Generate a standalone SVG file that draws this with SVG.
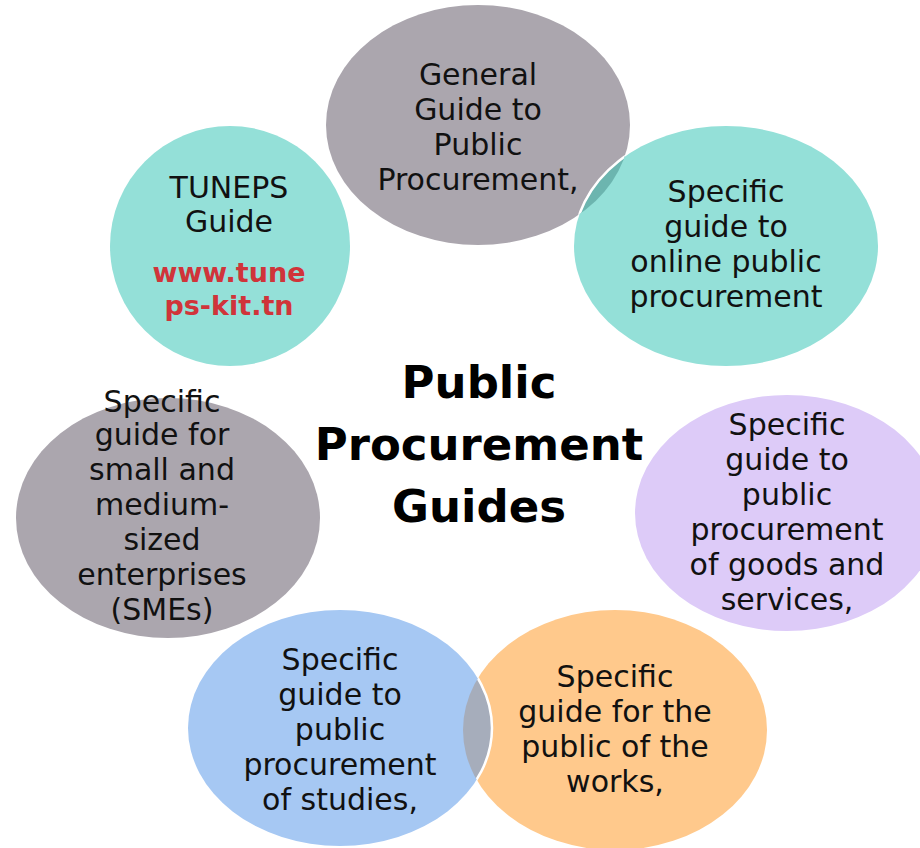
<svg xmlns="http://www.w3.org/2000/svg" width="920" height="848" viewBox="0 0 920 848">
<defs>
<style>
.t{font-family:"DejaVu Sans","Liberation Sans",sans-serif;font-size:30px;fill:#111;text-anchor:middle}
.r{font-family:"DejaVu Sans","Liberation Sans",sans-serif;font-size:27px;font-weight:bold;fill:#D0343A;text-anchor:middle}
.h{font-family:"DejaVu Sans","Liberation Sans",sans-serif;font-size:45px;font-weight:bold;fill:#000;text-anchor:middle}
</style>
<clipPath id="cGray"><ellipse cx="478" cy="125" rx="152" ry="120"/></clipPath>
<clipPath id="cOrange"><ellipse cx="615" cy="730" rx="152" ry="120"/></clipPath>
</defs>
<rect width="920" height="848" fill="#fff"/>
<g id="node-general">
<ellipse cx="478" cy="125" rx="152" ry="120" fill="#ABA6AE"/>
</g>
<g id="node-online">
<ellipse cx="726" cy="246" rx="152" ry="120" fill="#94E0D8"/>
</g>
<g id="node-goods">
<ellipse cx="787" cy="513" rx="152" ry="118" fill="#DDCBF8"/>
</g>
<g id="node-works">
<ellipse cx="615" cy="730" rx="152" ry="120" fill="#FFC98C"/>
</g>
<g id="node-studies">
<ellipse cx="340" cy="728" rx="152" ry="118" fill="#A6C8F3"/>
</g>
<g id="node-smes">
<ellipse cx="168" cy="518" rx="152" ry="120" fill="#ABA6AE"/>
</g>
<g id="node-tuneps">
<circle cx="230" cy="246" r="120" fill="#94E0D8"/>
</g>
<g id="overlaps">
<ellipse cx="726" cy="246" rx="152" ry="120" fill="#6CB5AF" clip-path="url(#cGray)"/>
<ellipse cx="726" cy="246" rx="152" ry="120" fill="none" stroke="#fff" stroke-width="2.5" clip-path="url(#cGray)"/>
<ellipse cx="340" cy="728" rx="152" ry="118" fill="#A6ADBB" clip-path="url(#cOrange)"/>
<ellipse cx="340" cy="728" rx="152" ry="118" fill="none" stroke="#fff" stroke-width="2.5" clip-path="url(#cOrange)"/>
</g>
<g id="labels">
<text class="t" x="478"><tspan x="478" y="85">General</tspan><tspan x="478" y="120">Guide to</tspan><tspan x="478" y="155">Public</tspan><tspan x="478" y="190">Procurement,</tspan></text>
<text class="t"><tspan x="726" y="202">Specific</tspan><tspan x="726" y="237">guide to</tspan><tspan x="726" y="272">online public</tspan><tspan x="726" y="307">procurement</tspan></text>
<text class="t"><tspan x="229" y="198">TUNEPS</tspan><tspan x="229" y="232">Guide</tspan></text>
<text class="r"><tspan x="229" y="282">www.tune</tspan><tspan x="229" y="315">ps-kit.tn</tspan></text>
<text class="t"><tspan x="162" y="412">Specific</tspan><tspan x="162" y="445">guide for</tspan><tspan x="162" y="480">small and</tspan><tspan x="162" y="515">medium-</tspan><tspan x="162" y="550">sized</tspan><tspan x="162" y="585">enterprises</tspan><tspan x="162" y="620">(SMEs)</tspan></text>
<text class="t"><tspan x="787" y="435">Specific</tspan><tspan x="787" y="470">guide to</tspan><tspan x="787" y="505">public</tspan><tspan x="787" y="540">procurement</tspan><tspan x="787" y="575">of goods and</tspan><tspan x="787" y="610">services,</tspan></text>
<text class="t"><tspan x="340" y="670">Specific</tspan><tspan x="340" y="705">guide to</tspan><tspan x="340" y="740">public</tspan><tspan x="340" y="775">procurement</tspan><tspan x="340" y="810">of studies,</tspan></text>
<text class="t"><tspan x="615" y="687">Specific</tspan><tspan x="615" y="722">guide for the</tspan><tspan x="615" y="757">public of the</tspan><tspan x="615" y="792">works,</tspan></text>
<text class="h"><tspan x="479" y="398">Public</tspan><tspan x="479" y="460">Procurement</tspan><tspan x="479" y="522">Guides</tspan></text>
</g>
</svg>
